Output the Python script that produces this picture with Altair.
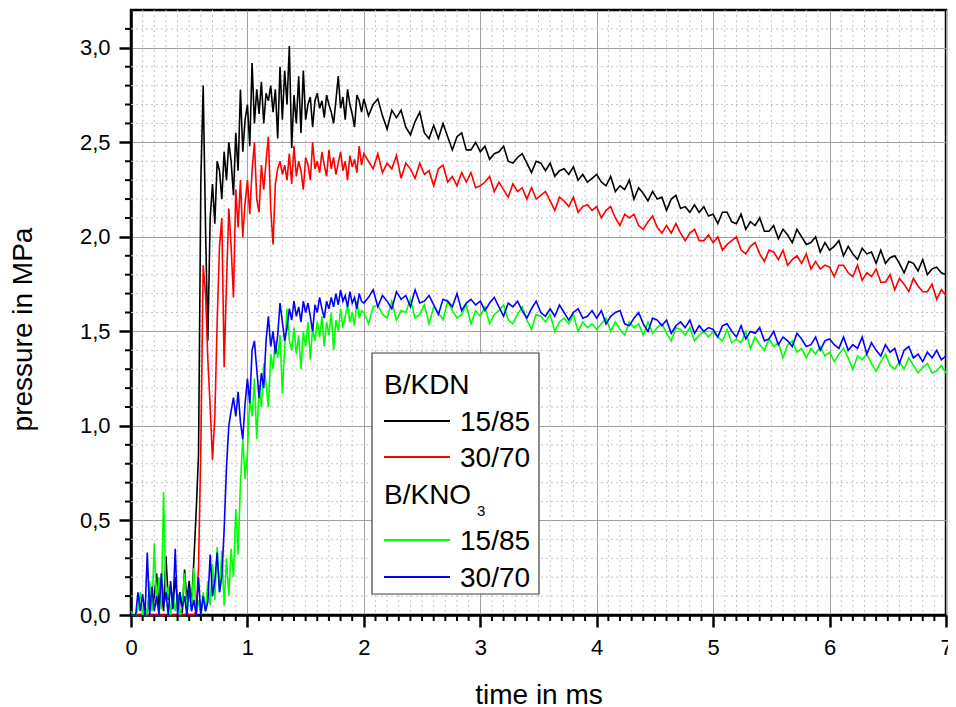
import altair as alt
import pandas as pd

# ---------------- data ----------------
# time grid: 0.00..1.98 every 0.02 ms, then 2.00..7.00 every 0.04 ms
T = [round(i * 0.02, 2) for i in range(100)] + [round(2.0 + i * 0.04, 2) for i in range(126)]

kdn_15 = [
    0, 0, 0, 0, 0, 0, 0, 0.02, 0.12, 0.03,
    0.10, 0.22, 0.05, 0.14, 0.02, 0.31, 0.08, 0.15, 0.04, 0.20,
    0.06, 0.12, 0.01, 0.24, 0.08, 0.18, 0.05, 0.29, 0.55, 0.85,
    2.30, 2.80, 2.05, 1.45, 2.10, 2.28, 2.07, 2.40, 2.35, 2.20,
    2.45, 2.30, 2.50, 2.40, 2.22, 2.55, 2.35, 2.78, 2.45, 2.62,
    2.70, 2.48, 2.92, 2.60, 2.78, 2.65, 2.82, 2.60, 2.76, 2.72,
    2.80, 2.66, 2.78, 2.52, 2.90, 2.62, 2.88, 2.70, 3.01, 2.47,
    2.75, 2.60, 2.85, 2.55, 2.88, 2.62, 2.70, 2.74, 2.58, 2.72,
    2.76, 2.68, 2.72, 2.63, 2.75, 2.70, 2.66, 2.60, 2.72, 2.85,
    2.68, 2.74, 2.62, 2.78, 2.70, 2.65, 2.58, 2.75, 2.72, 2.66,
    2.73, 2.64, 2.70, 2.73, 2.64, 2.57, 2.67, 2.63, 2.67, 2.58,
    2.54, 2.61, 2.66, 2.55, 2.52, 2.59, 2.52, 2.60, 2.53, 2.46,
    2.53, 2.55, 2.46, 2.46, 2.50,
    2.45, 2.48, 2.41, 2.44, 2.45, 2.48, 2.40, 2.39, 2.42, 2.44,
    2.39, 2.34, 2.40, 2.39, 2.35, 2.39, 2.32, 2.35, 2.36, 2.33,
    2.37, 2.30, 2.33, 2.29, 2.31,
    2.33, 2.29, 2.27, 2.32, 2.24, 2.27, 2.25, 2.30, 2.20, 2.26,
    2.23, 2.19, 2.24, 2.20, 2.21, 2.14, 2.20, 2.22, 2.15, 2.16,
    2.13, 2.17, 2.13, 2.16, 2.11,
    2.12, 2.07, 2.13, 2.13, 2.08, 2.07, 2.12, 2.04, 2.08, 2.06,
    2.10, 2.03, 2.03, 2.06, 1.99, 2.04, 2.01, 1.97, 2.04, 2.00,
    1.96, 1.97, 2.00, 1.92, 1.97,
    1.93, 1.95, 1.98, 1.90, 1.95, 1.91, 1.88, 1.94, 1.91, 1.92,
    1.86, 1.93, 1.86, 1.89, 1.90, 1.86, 1.81, 1.87, 1.86, 1.82,
    1.88, 1.80, 1.83, 1.84, 1.81,
    1.80,
]

kdn_30 = [
    0, 0, 0, 0, 0, 0, 0, 0, 0, 0,
    0, 0, 0, 0, 0, 0, 0, 0, 0, 0,
    0, 0, 0, 0, 0.01, 0, 0, 0, 0.02, 0.25,
    0.90, 1.85, 1.70, 1.35, 1.10, 0.82, 1.05, 1.55, 1.95, 2.10,
    1.31, 1.75, 2.15, 1.95, 1.68, 2.25, 2.05, 2.30, 2.00, 2.18,
    2.30, 2.12, 2.35, 2.50, 2.20, 2.13, 2.38, 2.25, 2.40, 2.53,
    2.15, 1.96, 2.28, 2.36, 2.40, 2.33, 2.38, 2.30, 2.44, 2.28,
    2.48, 2.32, 2.40, 2.35, 2.25, 2.42, 2.38, 2.30, 2.50, 2.36,
    2.40, 2.34, 2.45, 2.38, 2.32, 2.46, 2.36, 2.42, 2.33, 2.39,
    2.45, 2.35, 2.40, 2.30, 2.43, 2.37, 2.41, 2.34, 2.48, 2.38,
    2.44, 2.40, 2.36, 2.44, 2.34, 2.39, 2.36, 2.43, 2.31, 2.39,
    2.36, 2.31, 2.39, 2.33, 2.35, 2.27, 2.36, 2.38, 2.29, 2.32,
    2.27, 2.34, 2.29, 2.34, 2.26,
    2.27, 2.29, 2.32, 2.24, 2.29, 2.25, 2.21, 2.28, 2.24, 2.26,
    2.20, 2.26, 2.20, 2.22, 2.24, 2.19, 2.14, 2.21, 2.19, 2.16,
    2.21, 2.13, 2.16, 2.17, 2.14,
    2.16, 2.10, 2.14, 2.16, 2.10, 2.06, 2.12, 2.10, 2.12, 2.06,
    2.04, 2.08, 2.11, 2.05, 2.02, 2.06, 2.02, 2.07, 2.02, 1.98,
    2.02, 2.04, 1.98, 1.98, 2.01,
    1.97, 2.00, 1.93, 1.96, 1.98, 2.00, 1.93, 1.91, 1.95, 1.97,
    1.91, 1.87, 1.93, 1.92, 1.88, 1.93, 1.85, 1.88, 1.90, 1.86,
    1.91, 1.83, 1.87, 1.83, 1.85,
    1.84, 1.79, 1.85, 1.85, 1.81, 1.79, 1.85, 1.77, 1.81, 1.79,
    1.83, 1.76, 1.76, 1.80, 1.72, 1.78, 1.75, 1.71, 1.78, 1.74,
    1.71, 1.71, 1.75, 1.67, 1.72,
    1.69,
]

kno3_15 = [
    0.02, 0, 0, 0.03, 0.12, 0, 0.05, 0, 0.18, 0.02,
    0.38, 0.05, 0.20, 0.03, 0.65, 0.08, 0.15, 0, 0.12, 0.02,
    0.10, 0, 0.06, 0.22, 0, 0.14, 0.03, 0.25, 0, 0.08,
    0, 0.12, 0.02, 0.18, 0.05, 0.27, 0.08, 0.36, 0.12, 0.34,
    0.05, 0.30, 0.10, 0.35, 0.20, 0.56, 0.32, 0.70, 0.93, 0.72,
    0.85, 1.15, 1.05, 1.25, 0.93, 1.20, 1.10, 1.33, 1.22, 1.10,
    1.38, 1.30, 1.45, 1.36, 1.48, 1.17, 1.42, 1.62, 1.45, 1.40,
    1.52, 1.38, 1.48, 1.30, 1.50, 1.42, 1.55, 1.35, 1.52, 1.45,
    1.55, 1.47, 1.58, 1.42, 1.55, 1.48, 1.60, 1.40, 1.56, 1.50,
    1.62, 1.52, 1.58, 1.64, 1.55, 1.60, 1.53, 1.66, 1.57, 1.61,
    1.60, 1.54, 1.63, 1.64, 1.59, 1.57, 1.66, 1.56, 1.61, 1.60,
    1.67, 1.57, 1.59, 1.64, 1.54, 1.63, 1.60, 1.56, 1.66, 1.61,
    1.57, 1.59, 1.64, 1.54, 1.61,
    1.58, 1.63, 1.54, 1.59, 1.61, 1.64, 1.56, 1.54, 1.59, 1.63,
    1.56, 1.51, 1.59, 1.58, 1.55, 1.59, 1.50, 1.55, 1.57, 1.54,
    1.59, 1.50, 1.55, 1.52, 1.54,
    1.51, 1.54, 1.57, 1.50, 1.55, 1.51, 1.48, 1.55, 1.52, 1.54,
    1.48, 1.55, 1.49, 1.52, 1.54, 1.49, 1.45, 1.52, 1.51, 1.48,
    1.52, 1.45, 1.48, 1.50, 1.47,
    1.50, 1.47, 1.45, 1.51, 1.44, 1.46, 1.44, 1.50, 1.41, 1.47,
    1.43, 1.40, 1.46, 1.42, 1.44, 1.36, 1.43, 1.45, 1.39, 1.41,
    1.36, 1.41, 1.38, 1.42, 1.37,
    1.39, 1.34, 1.38, 1.41, 1.36, 1.30, 1.37, 1.35, 1.38, 1.33,
    1.29, 1.34, 1.38, 1.32, 1.30, 1.34, 1.30, 1.36, 1.32, 1.28,
    1.31, 1.33, 1.28, 1.29, 1.32,
    1.28,
]

kno3_30 = [
    0, 0, 0, 0.12, 0.02, 0.11, 0, 0.33, 0, 0.15,
    0.02, 0.10, 0, 0.22, 0.05, 0.12, 0, 0.18, 0.03, 0.35,
    0, 0.12, 0.04, 0.10, 0, 0.15, 0.02, 0.08, 0, 0.20,
    0, 0.10, 0.02, 0.07, 0.32, 0.10, 0.18, 0.33, 0.12, 0.20,
    0.45, 0.78, 1.00, 1.08, 1.15, 1.05, 1.18, 1.02, 0.93, 1.12,
    1.25, 1.12, 1.40, 1.45, 1.30, 1.15, 1.28, 1.20, 1.45, 1.58,
    1.42, 1.50, 1.38, 1.48, 1.65, 1.55, 1.45, 1.52, 1.62, 1.56,
    1.66, 1.58, 1.63, 1.55, 1.66, 1.60, 1.65, 1.58, 1.50, 1.64,
    1.60, 1.68, 1.62, 1.57, 1.66, 1.62, 1.68, 1.63, 1.70, 1.64,
    1.72, 1.66, 1.69, 1.63, 1.71, 1.65, 1.68, 1.62, 1.70, 1.66,
    1.65, 1.68, 1.72, 1.63, 1.69, 1.66, 1.62, 1.71, 1.67, 1.69,
    1.63, 1.72, 1.65, 1.66, 1.69, 1.64, 1.59, 1.67, 1.66, 1.63,
    1.70, 1.61, 1.65, 1.67, 1.64,
    1.66, 1.61, 1.65, 1.68, 1.63, 1.58, 1.65, 1.63, 1.66, 1.61,
    1.57, 1.62, 1.66, 1.60, 1.58, 1.62, 1.58, 1.64, 1.60, 1.56,
    1.60, 1.62, 1.57, 1.58, 1.61,
    1.57, 1.61, 1.54, 1.58, 1.60, 1.61, 1.54, 1.53, 1.57, 1.60,
    1.54, 1.50, 1.57, 1.56, 1.53, 1.56, 1.49, 1.53, 1.55, 1.52,
    1.56, 1.49, 1.53, 1.50, 1.52,
    1.51, 1.47, 1.53, 1.54, 1.50, 1.47, 1.53, 1.46, 1.50, 1.49,
    1.52, 1.45, 1.46, 1.50, 1.43, 1.47, 1.45, 1.42, 1.49, 1.46,
    1.42, 1.43, 1.47, 1.40, 1.45,
    1.46, 1.43, 1.41, 1.47, 1.40, 1.43, 1.41, 1.47, 1.38, 1.44,
    1.40, 1.37, 1.43, 1.39, 1.41, 1.33, 1.40, 1.42, 1.36, 1.38,
    1.34, 1.39, 1.36, 1.40, 1.35,
    1.37,
]

series_names = ["B/KDN 15/85", "B/KDN 30/70", "B/KNO3 15/85", "B/KNO3 30/70"]
series_colors = ["#000000", "#ff0000", "#00ff00", "#0000ff"]
series_values = [kdn_15, kdn_30, kno3_15, kno3_30]

x_major = [0, 1, 2, 3, 4, 5, 6, 7]
y_major = [0.0, 0.5, 1.0, 1.5, 2.0, 2.5, 3.0]
x_minor = [round(i * 0.1, 1) for i in range(1, 70) if i % 10]
y_minor = [round(i * 0.1, 1) for i in range(1, 32) if i % 5]

legend_labels = ["B/KDN", "15/85", "30/70", "B/KNO", "3", "15/85", "30/70"]

# ---------------- layout ----------------
W, H = 815, 605
FONT = "Liberation Sans"

x_scale = alt.Scale(domain=[0, 7], nice=False, zero=False)
y_scale = alt.Scale(domain=[0, 3.2], nice=False, zero=False)

X_AX = alt.Axis(
    values=x_major, format="d", title="time in ms",
    grid=True, gridColor="#a0a0a0", gridWidth=1,
    tickSize=12, tickWidth=2.5, tickColor="black",
    domainColor="black", domainWidth=2.5,
    labelFontSize=22, labelColor="black", labelFont=FONT,
    labelPadding=27, labelBaseline="alphabetic", labelFlush=False, labelOverlap=False,
    titleFontSize=28, titleFontWeight="normal", titleColor="black", titleFont=FONT,
    titleBaseline="alphabetic", titleY=88,
)
Y_AX = alt.Axis(
    values=y_major, title="pressure in MPa",
    labelExpr="replace(format(datum.value, '.1f'), '.', ',')",
    grid=True, gridColor="#a0a0a0", gridWidth=1,
    tickSize=12, tickWidth=2.5, tickColor="black",
    domainColor="black", domainWidth=2.5,
    labelFontSize=22, labelColor="black", labelFont=FONT,
    labelPadding=9, labelFlush=False, labelOverlap=False,
    titleFontSize=28, titleFontWeight="normal", titleColor="black", titleFont=FONT,
    titleBaseline="alphabetic", titleX=-100, titleY=319,
)

minor_style = dict(stroke="#c4c4c4", strokeWidth=1, strokeDash=[2, 3])

vgrid = alt.Chart(pd.DataFrame({"t": x_minor})).mark_rule(**minor_style).encode(
    x=alt.X("t:Q", scale=x_scale, axis=X_AX), y=alt.value(0), y2=alt.value(H))
hgrid = alt.Chart(pd.DataFrame({"p": y_minor})).mark_rule(**minor_style).encode(
    y=alt.Y("p:Q", scale=y_scale, axis=Y_AX), x=alt.value(0), x2=alt.value(W))

lines = []
for name, col, vals in zip(series_names, series_colors, series_values):
    df = pd.DataFrame({"t": T, "p": vals, "s": name})
    lines.append(
        alt.Chart(df).mark_line(color=col, strokeWidth=1.6).encode(
            x=alt.X("t:Q", scale=x_scale, axis=X_AX),
            y=alt.Y("p:Q", scale=y_scale, axis=Y_AX),
        )
    )

xticks = alt.Chart(pd.DataFrame({"t": x_minor})).mark_rule(stroke="black", strokeWidth=2).encode(
    x=alt.X("t:Q", scale=x_scale, axis=X_AX), y=alt.value(H), y2=alt.value(H + 6))
yticks = alt.Chart(pd.DataFrame({"p": y_minor})).mark_rule(stroke="black", strokeWidth=2).encode(
    y=alt.Y("p:Q", scale=y_scale, axis=Y_AX), x=alt.value(-6), x2=alt.value(0))

# ---------------- legend (drawn inside the plot) ----------------
box = alt.Chart(pd.DataFrame({"a": [0]})).mark_rect(
    fill="white", stroke="#404040", strokeWidth=1.2
).encode(x=alt.value(241), x2=alt.value(408), y=alt.value(343), y2=alt.value(584))

leg_lines_df = pd.DataFrame({
    "py": [411, 447, 530, 567],
    "col": series_colors,
})
leg_lines = alt.Chart(leg_lines_df).mark_rule(strokeWidth=2).encode(
    x=alt.value(253), x2=alt.value(319),
    y=alt.Y("py:Q", scale=None, axis=None),
    color=alt.Color("col:N", scale=None, legend=None),
)

leg_text_df = pd.DataFrame({
    "label": legend_labels,
    "px": [253, 329, 329, 253, 346, 329, 329],
    "py": [384, 421, 457, 494, 506, 540, 577],
    "fs": [28, 28, 28, 28, 15, 28, 28],
})
leg_text = alt.Chart(leg_text_df).mark_text(
    align="left", baseline="alphabetic", font=FONT, color="black"
).encode(
    x=alt.X("px:Q", scale=None, axis=None),
    y=alt.Y("py:Q", scale=None, axis=None),
    text="label:N",
    size=alt.Size("fs:Q", scale=None, legend=None),
)

chart = alt.layer(
    vgrid, hgrid, *lines, xticks, yticks, box, leg_lines, leg_text
).properties(
    width=W, height=H,
    autosize=alt.AutoSizeParams(type="none"),
    padding={"left": 123, "top": 2, "right": 2, "bottom": 92},
).configure(font=FONT).configure_view(stroke="black", strokeWidth=2.5)

chart.save("out.html", embed_options={"renderer": "svg", "actions": False})
